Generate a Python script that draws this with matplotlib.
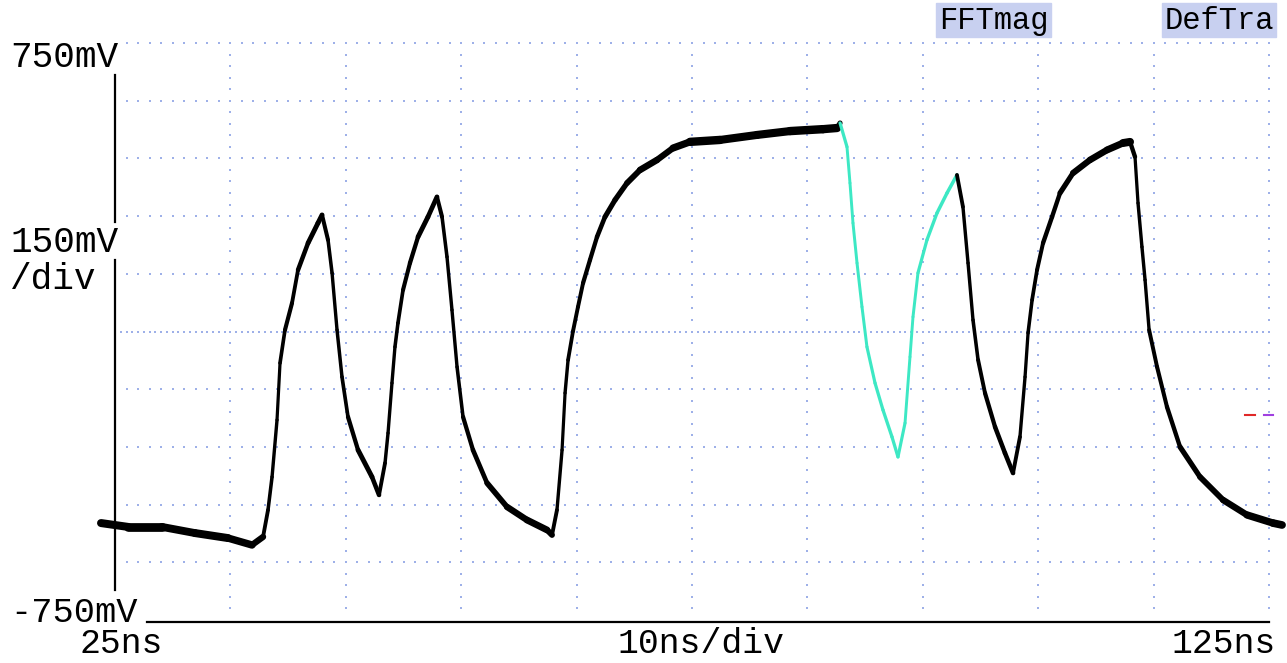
import matplotlib.pyplot as plt
import numpy as np
from matplotlib.collections import LineCollection

# Trace (time in ns, level in mV)
trace1_t = [23.79, 26.13, 29.07, 31.93, 34.79, 36.87, 37.83, 38.26, 38.61, 39.04, 39.30,
            39.73, 40.34, 40.86, 41.73, 42.59, 42.94, 43.46, 43.81, 44.24, 44.67, 45.19,
            46.06, 47.27, 47.88, 48.40, 48.66, 49.00, 49.26, 49.52, 49.96, 50.56, 51.26,
            52.12, 52.90, 53.34, 53.77, 54.20, 54.64, 55.16, 56.02, 57.24, 58.97, 60.70,
            62.44, 62.87, 63.30, 63.74, 64.00, 64.26, 64.69, 65.12, 65.56, 66.16, 66.77,
            67.46, 68.33, 69.37, 70.50, 71.97, 73.36, 74.83, 77.43, 80.64, 83.49, 86.35,
            87.57, 87.83]
trace1_mv = [-498, -508, -508, -524, -537, -555, -534, -464, -378, -230, -82,
             4, 74, 160, 230, 282, 303, 238, 152, 4, -118, -222,
             -308, -378, -425, -342, -264, -134, -40, 22, 108, 178, 246,
             298, 350, 298, 194, 56, -92, -222, -308, -394, -456, -490,
             -516, -529, -464, -308, -160, -74, 1, 64, 126, 186, 246,
             298, 342, 386, 420, 446, 477, 493, 498, 511, 521, 526,
             529, 542]

# highlighted (FFT window) part of the trace
fft_t = [87.83, 88.43, 88.69, 88.95, 89.30, 89.73, 90.16, 90.86, 91.55, 92.33, 92.85,
         93.46, 93.89, 94.15, 94.58, 95.36, 96.23, 97.10, 97.96]
fft_mv = [542, 480, 386, 282, 178, 64, -40, -134, -204, -274, -326,
          -238, -66, 38, 152, 238, 308, 360, 407]

trace2_t = [97.96, 98.48, 98.92, 99.35, 99.79, 100.39, 101.26, 102.12, 102.82, 103.42,
            103.86, 104.12, 104.47, 104.90, 105.42, 106.20, 106.89, 108.02, 109.49,
            110.97, 112.35, 112.96, 113.39, 113.65, 113.99, 114.26, 114.61, 115.30,
            116.16, 117.29, 119.02, 121.02, 123.10, 125.35, 126.13]
trace2_mv = [407, 324, 178, 30, -74, -160, -248, -316, -368, -274,
             -118, -4, 82, 160, 230, 298, 360, 412, 446,
             472, 490, 493, 454, 334, 220, 134, 4, -92,
             -196, -300, -378, -438, -477, -498, -503]

W, H = 1287, 663
fig = plt.figure(figsize=(W / 100, H / 100), dpi=100)
fig.patch.set_facecolor('white')

# screen area: 25..125 ns, -750..750 mV
ax = fig.add_axes([115 / W, (H - 620) / H, 1154 / W, 577 / H])
ax.set_xlim(25, 125)
ax.set_ylim(-750, 750)
ax.axis('off')

grid_col = '#9eb0e8'
# graticule dots
for v in np.arange(-600, 751, 150):
    if v == 0:
        xs = np.arange(25, 125.01, 0.5)
    else:
        xs = np.arange(26, 125.01, 1.0)
    ax.scatter(xs, np.full(len(xs), v), s=3.0, marker='s', color=grid_col,
               linewidths=0, zorder=1, clip_on=False)
for t in np.arange(35, 125.01, 10):
    ys = np.arange(-720, 750, 30)
    ax.scatter(np.full(len(ys), t), ys, s=3.0, marker='s', color=grid_col,
               linewidths=0, zorder=1, clip_on=False)

# solid axis lines
ax.plot([25, 25], [667, 285], color='black', lw=1.6, clip_on=False)
ax.plot([25, 25], [186, -672], color='black', lw=1.6, clip_on=False)
ax.plot([27.8, 125], [-755, -755], color='black', lw=1.6, clip_on=False)


# trace: the noisy band looks wider where the signal is flat
def draw_trace(t, mv, color, base, extra):
    t = np.asarray(t, float)
    mv = np.asarray(mv, float)
    pts = np.column_stack([t, mv])
    segs = np.stack([pts[:-1], pts[1:]], axis=1)
    dx = np.diff(t) * 11.54
    dy = np.diff(mv) / 2.6
    slope = np.abs(dy) / np.maximum(np.abs(dx), 1e-6)
    widths = base + extra / (1 + slope)
    lc = LineCollection(segs, colors=color, linewidths=widths, capstyle='round',
                        joinstyle='round', zorder=3, clip_on=False)
    ax.add_collection(lc)


draw_trace(trace1_t, trace1_mv, 'black', 2.1, 4.2)
draw_trace(fft_t, fft_mv, '#3de8c4', 2.0, 1.5)
draw_trace(trace2_t, trace2_mv, 'black', 2.1, 4.2)

# labels
mono = 'Liberation Mono'
def px_text(x, y, s, ha='left', size=26):
    fig.text(x / W, 1 - y / H, s, ha=ha, va='baseline', fontsize=size,
             family=mono, color='black')

px_text(10, 67, '750mV')
px_text(10, 252, '150mV')
px_text(10, 289, '/div')
px_text(10, 622, '-750mV', size=25.5)
px_text(80, 653, '25ns', size=25)
px_text(701, 653, '10ns/div', ha='center', size=25)
px_text(1276, 653, '125ns', ha='right', size=25)

# menu tags at the top
for x0, x1, s in [(936, 1051, 'FFTmag'), (1162, 1276, 'DefTra')]:
    fig.patches.append(plt.Rectangle((x0 / W, 1 - 37 / H), (x1 - x0) / W, 34 / H,
                                     transform=fig.transFigure, color='#c8d0f0',
                                     zorder=0))
    fig.text((x0 + x1) / 2 / W, 1 - 29 / H, s, ha='center', va='baseline',
             fontsize=22, family=mono, color='black')

# small reference marker at right edge
fig.add_artist(plt.Line2D([1245 / W, 1255 / W], [1 - 415 / H] * 2,
                          color='#e02828', lw=1.5))
fig.add_artist(plt.Line2D([1264 / W, 1273 / W], [1 - 415 / H] * 2,
                          color='#a040e0', lw=1.5))

fig.savefig('out.png', dpi=100)
